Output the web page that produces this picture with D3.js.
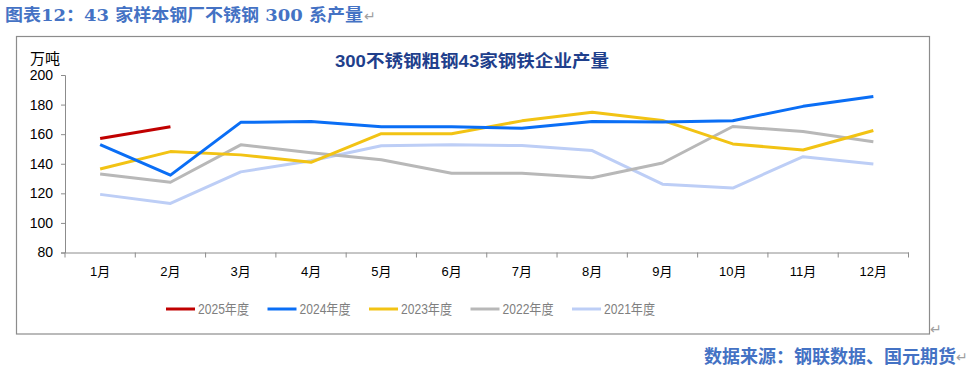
<!DOCTYPE html>
<html>
<head>
<meta charset="utf-8">
<script src="https://cdn.jsdelivr.net/npm/d3@7"></script>
<style>
  body { margin: 0; background: #fff; }
  svg text { font-family: Arial, "Liberation Sans", "Noto Sans CJK SC", sans-serif; }
</style>
</head>
<body>
<div id="chart"></div>
<script>
// months on the x axis
var months = ['1月', '2月', '3月', '4月', '5月', '6月', '7月', '8月', '9月', '10月', '11月', '12月'];
var yTicks = [80, 100, 120, 140, 160, 180, 200];

// series values (万吨)
var y2025 = [157, 165];
var y2024 = [153, 132.3, 168, 168.5, 165, 165, 164, 168.6, 168.2, 169.1, 178.8, 185.5];
var y2023 = [136.4, 148.2, 146, 141, 160.3, 160.3, 169, 174.8, 169.3, 153.4, 149.3, 162.5];
var y2022 = [133, 127.5, 152.8, 147.5, 142.7, 133.6, 133.6, 130.5, 140.5, 165.2, 161.8, 154.8];
var y2021 = [119.3, 113.2, 134.5, 142, 152.2, 152.8, 152.3, 148.9, 126.2, 123.6, 144.8, 139.8];

var seriesNames = ['2025年度', '2024年度', '2023年度', '2022年度', '2021年度'];
var seriesColors = ['#C00000', '#0A6EF5', '#F2C314', '#B8B8B8', '#BDCEF6'];
var seriesValues = [y2025, y2024, y2023, y2022, y2021];

var width = 975, height = 372;
var svg = d3.select('#chart').append('svg')
    .attr('width', width)
    .attr('height', height);

// heading above the box
svg.append('text')
    .attr('x', 5).attr('y', 21)
    .attr('fill', '#4472C4')
    .attr('font-weight', 'bold')
    .attr('textLength', 358)
    .attr('lengthAdjust', 'spacingAndGlyphs')
    .style('font-size', '17px')
    .style('font-family', '"DejaVu Serif", "Noto Sans CJK SC", serif')
    .text('图表12：43 家样本钢厂不锈钢 300 系产量');
svg.append('text')
    .attr('x', 364).attr('y', 21)
    .attr('fill', '#a0a0a0')
    .style('font-size', '14px')
    .text('↵');

// outer frame
svg.append('rect')
    .attr('x', 16.5).attr('y', 36.5)
    .attr('width', 913).attr('height', 297.5)
    .attr('fill', 'none')
    .attr('stroke', '#8c8c8c')
    .attr('stroke-width', 1.2);
svg.append('text')
    .attr('x', 930).attr('y', 334)
    .attr('fill', '#a0a0a0')
    .style('font-size', '14px')
    .text('↵');

var margin = {left: 65, right: 908.5, top: 75, bottom: 252.5};

var x = d3.scaleBand()
    .domain(months)
    .range([margin.left, margin.right]);

var y = d3.scaleLinear()
    .domain([80, 200])
    .range([margin.bottom, margin.top]);

// y axis
var yAxis = svg.append('g')
    .attr('transform', 'translate(' + margin.left + ',0)')
    .call(d3.axisLeft(y).tickValues(yTicks).tickSize(4).tickPadding(8));
yAxis.select('.domain').attr('stroke', '#8c8c8c');
yAxis.selectAll('.tick line').attr('stroke', '#8c8c8c');
yAxis.selectAll('.tick text')
    .attr('fill', '#000')
    .style('font-size', '14px');

// x axis: ticks on band boundaries
var xAxis = svg.append('g')
    .attr('transform', 'translate(0,' + margin.bottom + ')')
    .call(d3.axisBottom(x).tickSize(0).tickPadding(14));
xAxis.select('.domain').attr('stroke', '#8c8c8c');
xAxis.selectAll('.tick text')
    .attr('fill', '#000')
    .style('font-size', '13px');
xAxis.selectAll('.bound')
    .data(months.concat(['end']))
    .enter().append('line')
    .attr('class', 'bound')
    .attr('x1', (d, i) => margin.left + i * x.bandwidth())
    .attr('x2', (d, i) => margin.left + i * x.bandwidth())
    .attr('y1', 0).attr('y2', 5)
    .attr('stroke', '#8c8c8c');

// unit + chart title
svg.append('text')
    .attr('x', 30).attr('y', 64)
    .attr('fill', '#000')
    .style('font-size', '15px')
    .text('万吨');

svg.append('text')
    .attr('x', 472).attr('y', 67)
    .attr('text-anchor', 'middle')
    .attr('fill', '#1F3F8C')
    .attr('font-weight', 'bold')
    .attr('textLength', 274)
    .attr('lengthAdjust', 'spacingAndGlyphs')
    .style('font-size', '17px')
    .text('300不锈钢粗钢43家钢铁企业产量');

// lines, oldest drawn first so newer years sit on top
var line = d3.line()
    .x((d, i) => x(months[i]) + x.bandwidth() / 2)
    .y(d => y(d));

for (var k = seriesValues.length - 1; k >= 0; k--) {
    svg.append('path')
        .datum(seriesValues[k])
        .attr('fill', 'none')
        .attr('stroke', seriesColors[k])
        .attr('stroke-width', 3)
        .attr('stroke-linejoin', 'round')
        .attr('d', line);
}

// legend
var legend = svg.selectAll('.legend')
    .data(seriesNames)
    .enter().append('g')
    .attr('class', 'legend')
    .attr('transform', (d, i) => 'translate(' + (166 + i * 101.5) + ',309)');

legend.append('line')
    .attr('x1', 0).attr('x2', 29)
    .attr('y1', 0).attr('y2', 0)
    .attr('stroke', (d, i) => seriesColors[i])
    .attr('stroke-width', 3);

legend.append('text')
    .attr('x', 32).attr('y', 5)
    .attr('fill', '#7f7f7f')
    .attr('textLength', 51)
    .attr('lengthAdjust', 'spacingAndGlyphs')
    .style('font-size', '14px')
    .text(d => d);

// source line
svg.append('text')
    .attr('x', 956).attr('y', 363)
    .attr('text-anchor', 'end')
    .attr('fill', '#4472C4')
    .attr('font-weight', 'bold')
    .style('font-size', '18px')
    .style('font-family', '"Noto Sans CJK SC", sans-serif')
    .text('数据来源：钢联数据、国元期货');
svg.append('text')
    .attr('x', 956).attr('y', 362)
    .attr('fill', '#a0a0a0')
    .style('font-size', '14px')
    .text('↵');
</script>
</body>
</html>
